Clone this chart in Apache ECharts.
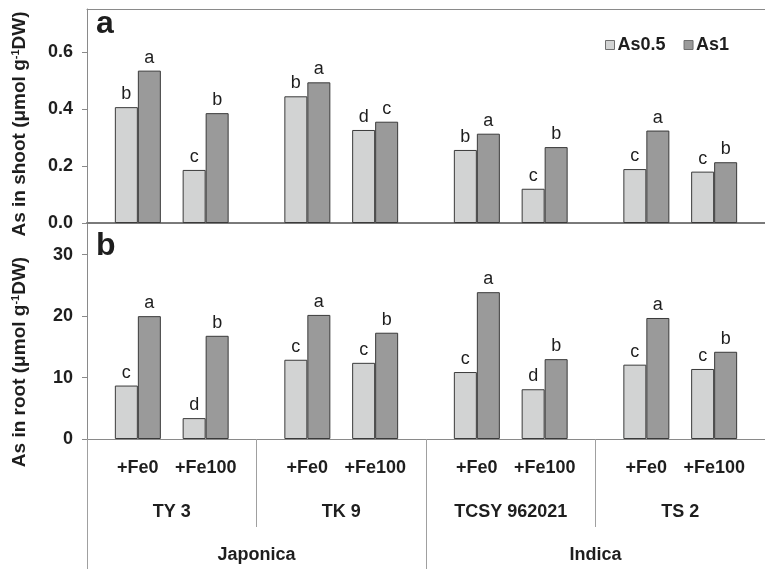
<!DOCTYPE html>
<html>
<head>
<meta charset="utf-8">
<script src="https://cdn.jsdelivr.net/npm/echarts@6/dist/echarts.min.js"></script>
<style>
  html, body { margin: 0; padding: 0; background: #fff; }
  #chart { width: 765px; height: 569px; }
</style>
</head>
<body>
<div id="chart"></div>
<script>
// ---- data ----
const treatments = ['+Fe0', '+Fe100'];
const cultivars = ['TY 3', 'TK 9', 'TCSY 962021', 'TS 2'];
const subspecies = ['Japonica', 'Indica'];
const arsenicLevels = ['As0.5', 'As1'];
const shootTicks = [0, 0.2, 0.4, 0.6];
const rootTicks = [0, 10, 20, 30];

// order: TY 3 (+Fe0, +Fe100), TK 9 (+Fe0, +Fe100), TCSY 962021 (...), TS 2 (...)
const shootAs05 = [0.406, 0.186, 0.444, 0.326, 0.256, 0.120, 0.189, 0.180];
const shootAs1  = [0.534, 0.385, 0.493, 0.355, 0.313, 0.266, 0.324, 0.213];
const rootAs05  = [8.7, 3.4, 12.9, 12.4, 10.9, 8.1, 12.1, 11.4];
const rootAs1   = [20.0, 16.8, 20.2, 17.3, 23.9, 13.0, 19.7, 14.2];

const shootLetters05 = ['b', 'c', 'b', 'd', 'b', 'c', 'c', 'c'];
const shootLetters1  = ['a', 'b', 'a', 'c', 'a', 'b', 'a', 'b'];
const rootLetters05  = ['c', 'd', 'c', 'c', 'c', 'd', 'c', 'c'];
const rootLetters1   = ['a', 'b', 'a', 'b', 'a', 'b', 'a', 'b'];

// ---- layout helpers ----
// each cultivar spans five equal slots; the two treatments sit in slots 1 and 3
const SLOTS = 5;
const treatmentSlot = [1, 3];
const FONT = "'Liberation Sans', Arial, Helvetica, sans-serif";
const INK = '#1e1e1e';
const AXIS_GRAY = '#8a8a8a';

const slotCategories = [];
cultivars.forEach(c => {
  for (let s = 0; s < SLOTS; s++) {
    const t = treatmentSlot.indexOf(s);
    slotCategories.push(c + '|' + (t >= 0 ? treatments[t] : 'gap' + s));
  }
});

function slotData(values, letters) {
  const out = [];
  cultivars.forEach((c, ci) => {
    for (let s = 0; s < SLOTS; s++) {
      const t = treatmentSlot.indexOf(s);
      if (t < 0) { out.push('-'); continue; }
      const k = ci * treatments.length + t;
      out.push({ value: values[k], letter: letters[k] });
    }
  });
  return out;
}

const colors = ['#d2d3d3', '#9a9a9a'];

function barSeries(name, colorIdx, axisIdx, values, letters) {
  return {
    type: 'bar',
    name: name,
    xAxisIndex: axisIdx,
    yAxisIndex: axisIdx,
    barWidth: 23,
    barGap: '0%',
    data: slotData(values, letters),
    itemStyle: { color: colors[colorIdx], borderColor: '#3a3a3a', borderWidth: 1 },
    label: {
      show: true,
      position: 'top',
      distance: 4,
      fontFamily: FONT,
      fontSize: 18,
      color: INK,
      formatter: p => (p.data && p.data.letter) ? p.data.letter : ''
    },
    emphasis: { disabled: true },
    animation: false
  };
}

function valueAxis(gridIndex, max, interval, ticks, digits) {
  return {
    type: 'value',
    gridIndex: gridIndex,
    min: 0,
    max: max,
    interval: interval,
    axisLine: { show: true, lineStyle: { color: AXIS_GRAY, width: 1 } },
    axisTick: { show: true, length: 5, lineStyle: { color: AXIS_GRAY } },
    splitLine: { show: false },
    axisLabel: {
      showMaxLabel: false,
      margin: 14,
      fontFamily: FONT,
      fontSize: 18,
      fontWeight: 'bold',
      color: INK,
      formatter: v => ticks.some(t => Math.abs(t - v) < 1e-9) ? v.toFixed(digits) : ''
    }
  };
}

const chart = echarts.init(document.getElementById('chart'), null, { renderer: 'canvas' });

const titleRich = {
  sup: { fontFamily: FONT, fontSize: 11, fontWeight: 'bold', fill: INK, verticalAlign: 'top', padding: [0, 0, 8, 0] }
};

chart.setOption({
  backgroundColor: '#fff',
  animation: false,
  legend: {
    data: arsenicLevels,
    left: 600,
    top: 31,
    icon: 'rect',
    itemWidth: 9,
    itemHeight: 9,
    itemGap: 18,
    itemStyle: { borderColor: '#6e6e6e', borderWidth: 1 },
    textStyle: { fontFamily: FONT, fontSize: 18, fontWeight: 'bold', color: INK, padding: [0, 0, 0, -2] },
    selectedMode: false
  },
  grid: [
    { left: 87, right: 0, top: 9, height: 214 },
    { left: 87, right: 0, top: 224, height: 215 }
  ],
  xAxis: [
    {
      type: 'category', gridIndex: 0, position: 'bottom', data: slotCategories,
      axisLine: { show: true, lineStyle: { color: '#7a7a7a', width: 2 } },
      axisTick: { show: false }, axisLabel: { show: false }
    },
    {
      type: 'category', gridIndex: 1, position: 'bottom', data: slotCategories,
      axisLine: { show: true, lineStyle: { color: AXIS_GRAY, width: 1 } },
      axisTick: { show: false },
      axisLabel: {
        interval: 0, margin: 20, fontFamily: FONT, fontSize: 18, fontWeight: 'bold', color: INK,
        formatter: v => { const t = v.split('|')[1]; return treatments.includes(t) ? t : ''; }
      }
    },
    {
      type: 'category', gridIndex: 1, position: 'bottom', offset: 0, data: cultivars,
      axisLine: { show: false },
      axisTick: { show: true, length: 88, lineStyle: { color: '#a0a0a0' } },
      axisLabel: { interval: 0, margin: 64, fontFamily: FONT, fontSize: 18, fontWeight: 'bold', color: INK }
    },
    {
      type: 'category', gridIndex: 1, position: 'bottom', offset: 0, data: subspecies,
      axisLine: { show: false },
      axisTick: { show: true, length: 132, lineStyle: { color: '#a0a0a0' } },
      axisLabel: { interval: 0, margin: 107, fontFamily: FONT, fontSize: 18, fontWeight: 'bold', color: INK }
    },
    {
      // top frame line of the shoot panel
      type: 'category', gridIndex: 0, position: 'top', data: cultivars,
      axisLine: { show: true, lineStyle: { color: AXIS_GRAY, width: 1 } },
      axisTick: { show: false }, axisLabel: { show: false }
    }
  ],
  yAxis: [
    valueAxis(0, 0.75, 0.2, shootTicks, 1),
    valueAxis(1, 35, 10, rootTicks, 0)
  ],
  series: [
    barSeries(arsenicLevels[0], 0, 0, shootAs05, shootLetters05),
    barSeries(arsenicLevels[1], 1, 0, shootAs1, shootLetters1),
    barSeries(arsenicLevels[0], 0, 1, rootAs05, rootLetters05),
    barSeries(arsenicLevels[1], 1, 1, rootAs1, rootLetters1)
  ],
  graphic: [
    {
      type: 'text', x: 20, y: 124, rotation: Math.PI / 2, z: 10,
      style: {
        text: 'As in shoot (μmol g{sup|-1}DW)', rich: titleRich,
        fontFamily: FONT, fontSize: 19, fontWeight: 'bold', fill: INK,
        align: 'center', verticalAlign: 'middle'
      }
    },
    {
      type: 'text', x: 20, y: 362, rotation: Math.PI / 2, z: 10,
      style: {
        text: 'As in root (μmol g{sup|-1}DW)', rich: titleRich,
        fontFamily: FONT, fontSize: 19, fontWeight: 'bold', fill: INK,
        align: 'center', verticalAlign: 'middle'
      }
    },
    {
      type: 'text', x: 96, y: 24, z: 10,
      style: { text: 'a', fontFamily: FONT, fontSize: 32, fontWeight: 'bold', fill: INK, align: 'left', verticalAlign: 'middle' }
    },
    {
      type: 'text', x: 96, y: 246, z: 10,
      style: { text: 'b', fontFamily: FONT, fontSize: 32, fontWeight: 'bold', fill: INK, align: 'left', verticalAlign: 'middle' }
    }
  ]
});
</script>
</body>
</html>
